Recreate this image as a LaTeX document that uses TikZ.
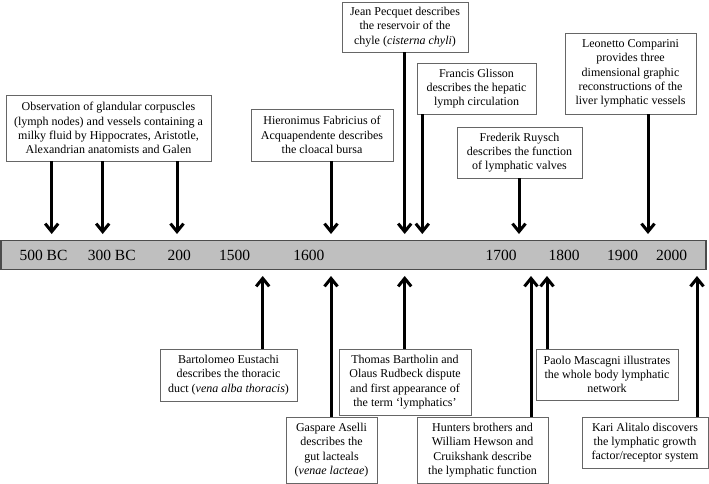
\documentclass[tikz,border=0pt]{standalone}
\usepackage{fontspec}
\setmainfont{Liberation Serif}
\usetikzlibrary{arrows.meta}

\begin{document}
\begin{tikzpicture}[x=1pt, y=-1pt,
	box/.style={draw=black!60, line width=0.8pt, fill=white, align=center, inner sep=2pt,
		font=\fontsize{12}{14.3}\selectfont},
	arr/.style={line width=3pt, -{Straight Barb[length=8pt,width=13pt]}},
	yr/.style={font=\fontsize{15.5}{18}\selectfont, inner sep=0pt}]
	%%%%% START %%%%%
	
	\useasboundingbox (0, 0) rectangle (709, 484);
	
	% time axis
	\node[draw=black!70, line width=1.2pt, fill=black!25, minimum width=705pt, minimum height=28.6pt, inner sep=0pt] (axis) at (353.5, 255) {};
	\node[yr] (y500bc) at (43.5, 255) {500 BC};
	\node[yr] (y300bc) at (111.7, 255) {300 BC};
	\node[yr] (y200) at (179.3, 255) {200};
	\node[yr] (y1500) at (234.5, 255) {1500};
	\node[yr] (y1600) at (308.8, 255) {1600};
	\node[yr] (y1700) at (501, 255) {1700};
	\node[yr] (y1800) at (564, 255) {1800};
	\node[yr] (y1900) at (622.7, 255) {1900};
	\node[yr] (y2000) at (671.7, 255) {2000};
	
	% events above the axis
	\node[box, minimum width=205pt, minimum height=66pt] (obs) at (108.5, 128) {Observation of glandular corpuscles\\(lymph nodes) and vessels containing a\\milky fluid by Hippocrates, Aristotle,\\Alexandrian anatomists and Galen};
	\node[box, minimum width=142pt, minimum height=52pt] (fab) at (322, 135) {Hieronimus Fabricius of\\Acquapendente describes\\the cloacal bursa};
	\node[box, minimum width=126pt, minimum height=50pt] (pec) at (405, 27) {Jean Pecquet describes\\the reservoir of the\\chyle (\textit{cisterna chyli})};
	\node[box, minimum width=119pt, minimum height=51pt] (gli) at (476.5, 88.5) {Francis Glisson\\describes the hepatic\\lymph circulation};
	\node[box, minimum width=125pt, minimum height=51pt] (ruy) at (519.5, 152.5) {Frederik Ruysch\\describes the function\\of lymphatic valves};
	\node[box, minimum width=131pt, minimum height=81pt] (com) at (630.5, 73.5) {Leonetto Comparini\\provides three\\dimensional graphic\\reconstructions of the\\liver lymphatic vessels};
	
	\coordinate (t1) at (51.7, 234);
	\coordinate (t2) at (102.7, 234);
	\coordinate (t3) at (177, 234);
	\coordinate (t4) at (331, 234);
	\coordinate (t5) at (404.7, 234);
	\coordinate (t6) at (422.3, 234);
	\coordinate (t7) at (519, 234);
	\coordinate (t8) at (648, 234);
	
	\draw[arr] (obs.south -| t1) -- (t1);
	\draw[arr] (obs.south -| t2) -- (t2);
	\draw[arr] (obs.south -| t3) -- (t3);
	\draw[arr] (fab.south -| t4) -- (t4);
	\draw[arr] (pec.south -| t5) -- (t5);
	\draw[arr] (gli.south -| t6) -- (t6);
	\draw[arr] (ruy.south -| t7) -- (t7);
	\draw[arr] (com.south -| t8) -- (t8);
	
	% events below the axis
	\node[box, minimum width=137pt, minimum height=52pt] (eus) at (228.5, 375) {Bartolomeo Eustachi\\describes the thoracic\\duct (\textit{vena alba thoracis})};
	\node[box, minimum width=91pt, minimum height=66pt] (ase) at (331.5, 450) {Gaspare Aselli\\describes the\\gut lacteals\\(\textit{venae lacteae})};
	\node[box, minimum width=132pt, minimum height=66pt] (bar) at (405, 382) {Thomas Bartholin and\\Olaus Rudbeck dispute\\and first appearance of\\the term `lymphatics'};
	\node[box, minimum width=131pt, minimum height=66pt] (hun) at (482.5, 450) {Hunters brothers and\\William Hewson and\\Cruikshank describe\\the lymphatic function};
	\node[box, minimum width=142pt, minimum height=51pt] (mas) at (607, 374.5) {Paolo Mascagni illustrates\\the whole body lymphatic\\network};
	\node[box, minimum width=126pt, minimum height=51pt] (ali) at (645, 442.5) {Kari Alitalo discovers\\the lymphatic growth\\factor/receptor system};
	
	\coordinate (b1) at (262.7, 276);
	\coordinate (b2) at (331, 276);
	\coordinate (b3) at (404.7, 276);
	\coordinate (b4) at (531, 276);
	\coordinate (b5) at (547, 276);
	\coordinate (b6) at (697, 276);
	
	\draw[arr] (eus.north -| b1) -- (b1);
	\draw[arr] (ase.north -| b2) -- (b2);
	\draw[arr] (bar.north -| b3) -- (b3);
	\draw[arr] (hun.north -| b4) -- (b4);
	\draw[arr] (mas.north -| b5) -- (b5);
	\draw[arr] (ali.north -| b6) -- (b6);
	
	%%%%% END %%%%%
\end{tikzpicture}
\end{document}
